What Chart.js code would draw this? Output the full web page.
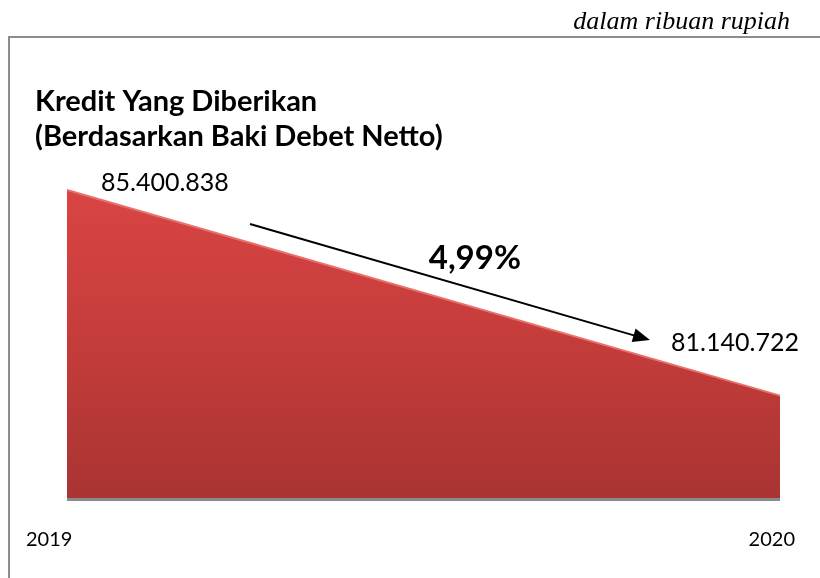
<!DOCTYPE html>
<html>
<head>
<meta charset="utf-8">
<script src="https://cdn.jsdelivr.net/npm/chart.js@4.4.1/dist/chart.umd.min.js"></script>
<style>
  html, body { margin: 0; padding: 0; background: #ffffff; }
  #wrap { position: relative; width: 820px; height: 578px; }
</style>
</head>
<body>
<div id="wrap"><canvas id="kredit" width="820" height="578"></canvas></div>
<script>
// data kredit (dalam ribuan rupiah)
var tahun = ['2019', '2020'];
var nilaiKredit = [85400838, 81140722];
var batasY = [79000000, 86000000];

var judul = ['Kredit Yang Diberikan', '(Berdasarkan Baki Debet Netto)'];
var satuan = 'dalam ribuan rupiah';

function formatAngka(v) {
    return String(v).replace(/\B(?=(\d{3})+(?!\d))/g, '.');
}

// persentase penurunan
var turun = ((nilaiKredit[0] - nilaiKredit[1]) / nilaiKredit[0] * 100).toFixed(2).replace('.', ',') + '%';

var hiasan = {
    id: 'hiasan',
    beforeDraw: function(chart) {
        var ctx = chart.ctx;
        ctx.save();
        // bingkai abu-abu
        ctx.strokeStyle = '#8c8c8c';
        ctx.lineWidth = 2;
        ctx.beginPath();
        ctx.moveTo(9, 578);
        ctx.lineTo(9, 37);
        ctx.lineTo(820, 37);
        ctx.stroke();

        ctx.fillStyle = '#000';
        ctx.textBaseline = 'middle';
        ctx.font = 'italic 26px "Liberation Serif"';
        ctx.textAlign = 'right';
        ctx.fillText(satuan, 790, 22);

        ctx.textAlign = 'left';
        ctx.font = 'bold 29px Lato';
        ctx.fillText(judul[0], 35, 102);
        ctx.fillText(judul[1], 35, 137);
        ctx.restore();
    },
    afterDatasetsDraw: function(chart) {
        var ctx = chart.ctx;
        var area = chart.chartArea;
        var meta = chart.getDatasetMeta(0);
        var p0 = meta.data[0], p1 = meta.data[1];
        ctx.save();

        // garis bawah abu-abu
        ctx.fillStyle = '#8a8a8a';
        ctx.fillRect(p0.x, area.bottom - 1, p1.x - p0.x, 3);

        // label nilai
        ctx.fillStyle = '#000';
        ctx.textBaseline = 'middle';
        ctx.font = '25px Lato';
        ctx.textAlign = 'left';
        ctx.fillText(formatAngka(nilaiKredit[0]), p0.x + 34, p0.y - 7);
        ctx.textAlign = 'center';
        ctx.fillText(formatAngka(nilaiKredit[1]), p1.x - 45, p1.y - 53);

        // label tahun
        ctx.font = '20px Lato';
        ctx.textAlign = 'left';
        ctx.fillText(tahun[0], 26, 540);
        ctx.textAlign = 'right';
        ctx.fillText(tahun[1], 795, 540);

        // panah penurunan
        var w = area.right - area.left;
        var x1 = area.left + w * 0.2567, y1 = 224;
        var x2 = area.left + w * 0.8176, y2 = 340;
        var ang = Math.atan2(y2 - y1, x2 - x1);
        ctx.strokeStyle = '#000';
        ctx.lineWidth = 2;
        ctx.beginPath();
        ctx.moveTo(x1, y1);
        ctx.lineTo(x2 - 14 * Math.cos(ang), y2 - 14 * Math.sin(ang));
        ctx.stroke();
        ctx.fillStyle = '#000';
        ctx.beginPath();
        ctx.moveTo(x2, y2);
        ctx.lineTo(x2 - 17 * Math.cos(ang) + 7 * Math.sin(ang), y2 - 17 * Math.sin(ang) - 7 * Math.cos(ang));
        ctx.lineTo(x2 - 17 * Math.cos(ang) - 7 * Math.sin(ang), y2 - 17 * Math.sin(ang) + 7 * Math.cos(ang));
        ctx.closePath();
        ctx.fill();

        ctx.font = 'bold 33px Lato';
        ctx.textAlign = 'center';
        ctx.fillText(turun, area.left + w * 0.572, 258);
        ctx.restore();
    }
};

var ctx = document.getElementById('kredit').getContext('2d');
var grafik = new Chart(ctx, {
    type: 'line',
    data: {
        labels: tahun,
        datasets: [{
            label: 'Kredit Yang Diberikan',
            data: nilaiKredit,
            fill: 'start',
            backgroundColor: function(c) {
                var a = c.chart.chartArea;
                if (!a) return '#c83c3a';
                var g = c.chart.ctx.createLinearGradient(0, a.top, 0, a.bottom);
                g.addColorStop(0, '#dc4646');
                g.addColorStop(0.5, '#c63d3b');
                g.addColorStop(1, '#a93432');
                return g;
            },
            borderColor: '#e8716c',
            borderWidth: 2,
            pointRadius: 0,
            tension: 0
        }]
    },
    options: {
        responsive: false,
        animation: false,
        layout: { padding: { left: 67, right: 40, top: 161, bottom: 79 } },
        scales: {
            x: { display: false, offset: false },
            y: { display: false, min: batasY[0], max: batasY[1] }
        },
        plugins: {
            legend: { display: false },
            tooltip: { enabled: false }
        }
    },
    plugins: [hiasan]
});
</script>
</body>
</html>
